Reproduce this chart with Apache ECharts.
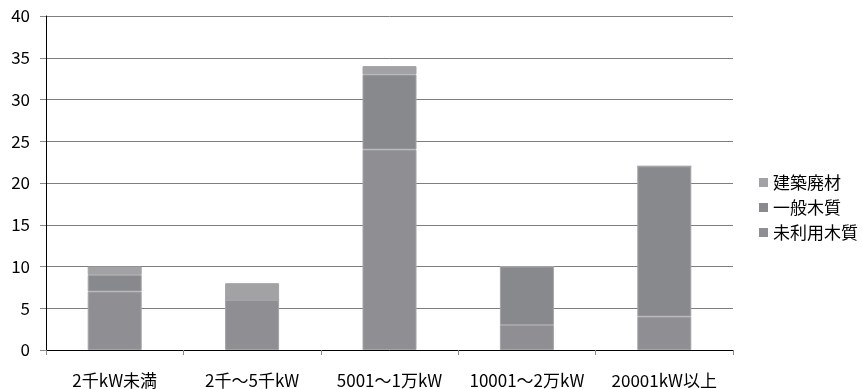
<!DOCTYPE html>
<html>
<head>
<meta charset="utf-8">
<script src="https://cdn.jsdelivr.net/npm/echarts@6/dist/echarts.min.js"></script>
<style>
  html, body { margin: 0; padding: 0; background: #fff; }
  #chart { width: 862px; height: 389px; }
</style>
</head>
<body>
<div id="chart"></div>
<script>
// Plant output classes
const categories = ['2千kW未満', '2千～5千kW', '5001～1万kW', '10001～2万kW', '20001kW以上'];
// Number of plants by fuel type (stacked bottom to top)
const unusedWood = [7, 6, 24, 3, 4];     // 未利用木質
const generalWood = [2, 0, 9, 7, 18];    // 一般木質
const demolition = [1, 2, 1, 0, 0];      // 建築廃材
const yTicks = [0, 5, 10, 15, 20, 25, 30, 35, 40];

const font = '"Noto Sans CJK JP", "Noto Sans", sans-serif';
const sep = { borderColor: '#a4a4a8', borderWidth: 1 };

function bar(name, data, color) {
  return {
    name, type: 'bar', stack: 'total', data,
    barWidth: 54,
    itemStyle: Object.assign({ color }, sep),
    emphasis: { disabled: true }
  };
}

const chart = echarts.init(document.getElementById('chart'));
chart.setOption({
  animation: false,
  textStyle: { fontFamily: font },
  grid: { left: 46, right: 129, top: 16, bottom: 39, containLabel: false },
  legend: {
    orient: 'vertical', left: 754, top: 169,
    itemWidth: 9, itemHeight: 9, itemGap: 8,
    icon: 'rect',
    textStyle: { fontFamily: font, fontSize: 17, color: '#000' },
    data: [
      { name: '建築廃材', itemStyle: { color: '#a2a2a5', borderWidth: 0 } },
      { name: '一般木質', itemStyle: { color: '#8a8a8e', borderWidth: 0 } },
      { name: '未利用木質', itemStyle: { color: '#8f8f93', borderWidth: 0 } }
    ]
  },
  xAxis: {
    type: 'category', data: categories,
    axisLine: { lineStyle: { color: '#000', width: 1 } },
    axisTick: { show: true, length: 5, lineStyle: { color: '#888' } },
    axisLabel: { color: '#000', fontSize: 17, margin: 22, interval: 0, fontFamily: font }
  },
  yAxis: {
    type: 'value', min: yTicks[0], max: yTicks[yTicks.length - 1], interval: 5,
    axisLine: { show: true, lineStyle: { color: '#000', width: 1 } },
    axisTick: { show: true, length: 6, lineStyle: { color: '#888' } },
    axisLabel: { color: '#000', fontSize: 17, margin: 16, fontFamily: font },
    splitLine: { lineStyle: { color: '#7e7e7e', width: 1 } }
  },
  series: [
    bar('未利用木質', unusedWood, '#8f8f93'),
    bar('一般木質', generalWood, '#88898d'),
    bar('建築廃材', demolition, '#a2a2a5')
  ]
});
</script>
</body>
</html>
